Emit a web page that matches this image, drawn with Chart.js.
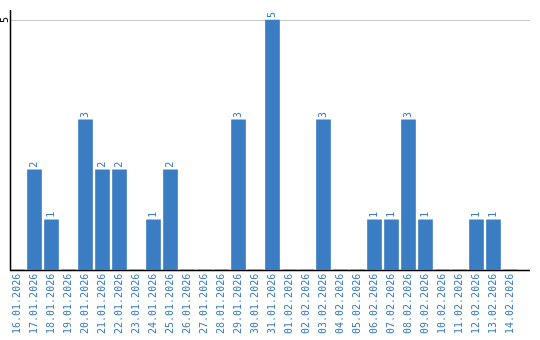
<!DOCTYPE html>
<html>
<head>
<meta charset="utf-8">
<script src="https://cdn.jsdelivr.net/npm/chart.js@4"></script>
<style>
  html, body { margin: 0; padding: 0; background: #fff; }
  #wrap { width: 540px; height: 340px; }
</style>
</head>
<body>
<div id="wrap"><canvas id="chart" width="540" height="340"></canvas></div>
<script>
// data
const days = [
  "16.01.2026", "17.01.2026", "18.01.2026", "19.01.2026", "20.01.2026",
  "21.01.2026", "22.01.2026", "23.01.2026", "24.01.2026", "25.01.2026",
  "26.01.2026", "27.01.2026", "28.01.2026", "29.01.2026", "30.01.2026",
  "31.01.2026", "01.02.2026", "02.02.2026", "03.02.2026", "04.02.2026",
  "05.02.2026", "06.02.2026", "07.02.2026", "08.02.2026", "09.02.2026",
  "10.02.2026", "11.02.2026", "12.02.2026", "13.02.2026", "14.02.2026"
];
const counts = [0, 2, 1, 0, 3, 2, 2, 0, 1, 2, 0, 0, 0, 3, 0, 5, 0, 0, 3, 0, 0, 1, 1, 3, 1, 0, 0, 1, 1, 0];
const yTicks = [5];

const barColor = "#3b7dc3";
const font = "DejaVu Sans Mono";
const axisEnd = 530; // axis and gridline run past the last category

// gridline and axes, drawn under the bars
const axesPlugin = {
  id: "axes",
  beforeDatasetsDraw(chart) {
    const ctx = chart.ctx;
    const y = chart.scales.y;
    const area = chart.chartArea;
    ctx.save();
    ctx.lineWidth = 1;
    ctx.strokeStyle = "#c8c8c8";
    yTicks.forEach((t) => {
      const py = Math.round(y.getPixelForValue(t)) + 0.5;
      ctx.beginPath();
      ctx.moveTo(10, py);
      ctx.lineTo(axisEnd, py);
      ctx.stroke();
    });
    ctx.restore();
  },
  afterDatasetsDraw(chart) {
    const ctx = chart.ctx;
    const area = chart.chartArea;
    const base = Math.round(area.bottom) + 0.5;
    ctx.save();
    ctx.lineWidth = 1.5;
    ctx.strokeStyle = "#000";
    ctx.beginPath();
    ctx.moveTo(10.5, area.top);
    ctx.lineTo(10.5, base);
    ctx.lineTo(axisEnd, base);
    ctx.stroke();
    ctx.restore();
  },
};

// rotated "5" tick and the value labels above the bars
const labelsPlugin = {
  id: "labels",
  afterDraw(chart) {
    const ctx = chart.ctx;
    const y = chart.scales.y;
    ctx.save();
    ctx.font = "10px '" + font + "'";
    ctx.fillStyle = "#000";
    yTicks.forEach((t) => {
      ctx.save();
      ctx.translate(5, y.getPixelForValue(t));
      ctx.rotate(-Math.PI / 2);
      ctx.textAlign = "center";
      ctx.textBaseline = "middle";
      ctx.fillText(String(t), 0, 0);
      ctx.restore();
    });
    ctx.fillStyle = barColor;
    chart.getDatasetMeta(0).data.forEach((bar, i) => {
      if (!counts[i]) return;
      ctx.save();
      ctx.translate(bar.x, bar.y - 2);
      ctx.rotate(-Math.PI / 2);
      ctx.textAlign = "left";
      ctx.textBaseline = "middle";
      ctx.fillText(String(counts[i]), 0, 0);
      ctx.restore();
    });
    ctx.restore();
  },
};

new Chart(document.getElementById("chart"), {
  type: "bar",
  data: {
    labels: days,
    datasets: [{
      data: counts,
      backgroundColor: barColor,
      barThickness: 14,
    }],
  },
  options: {
    responsive: false,
    animation: false,
    layout: { padding: { top: 10, right: 21, left: 0, bottom: 2 } },
    plugins: { legend: { display: false }, tooltip: { enabled: false } },
    scales: {
      x: {
        grid: { display: false, drawTicks: false },
        border: { display: false },
        ticks: {
          minRotation: 90,
          maxRotation: 90,
          autoSkip: false,
          padding: 4,
          color: barColor,
          font: { family: font, size: 10 },
        },
      },
      y: {
        min: 0,
        max: 5.2,
        afterBuildTicks: (scale) => {
          scale.ticks = yTicks.map((v) => ({ value: v }));
        },
        afterFit: (scale) => { scale.width = 9; },
        grid: { display: false, drawTicks: false },
        border: { display: false },
        ticks: { display: false },
      },
    },
  },
  plugins: [axesPlugin, labelsPlugin],
});
</script>
</body>
</html>
